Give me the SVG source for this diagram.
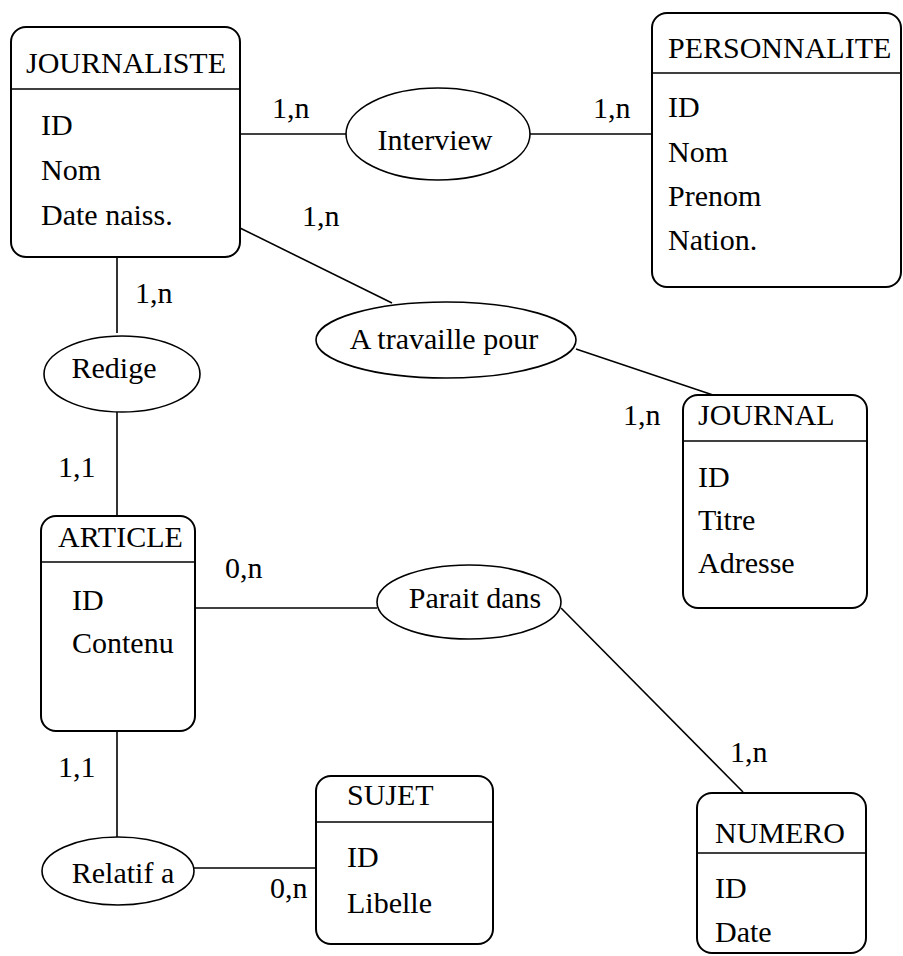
<svg xmlns="http://www.w3.org/2000/svg" width="903" height="956" viewBox="0 0 903 956">
<style>
  .box { fill: #fff; stroke: #000; stroke-width: 2; }
  .div { stroke: #000; stroke-width: 1.6; }
  .rel { fill: #fff; stroke: #000; stroke-width: 1.6; }
  .con { stroke: #000; stroke-width: 1.6; fill: none; }
  text { font-family: "Liberation Serif", "Times New Roman", serif; font-size: 30px; fill: #000; }
  .mid { text-anchor: middle; }
</style>
<rect width="903" height="956" fill="#fff"/>
<g id="connectors">
  <line class="con" x1="240" y1="134" x2="346" y2="134"/>
  <line class="con" x1="530" y1="134" x2="652" y2="134"/>
  <line class="con" x1="240" y1="228" x2="392" y2="303"/>
  <line class="con" x1="576" y1="349" x2="713" y2="395"/>
  <line class="con" x1="117" y1="257" x2="117" y2="333"/>
  <line class="con" x1="117" y1="412" x2="117" y2="516"/>
  <line class="con" x1="195" y1="608" x2="377" y2="608"/>
  <line class="con" x1="561" y1="608" x2="743" y2="792"/>
  <line class="con" x1="117" y1="731" x2="117" y2="837"/>
  <line class="con" x1="194" y1="868" x2="316" y2="868"/>
  <text x="272" y="118">1,n</text>
  <text x="593" y="118">1,n</text>
  <text x="302" y="226">1,n</text>
  <text x="623" y="425">1,n</text>
  <text x="135" y="303">1,n</text>
  <text x="58" y="477">1,1</text>
  <text x="225" y="578">0,n</text>
  <text x="730" y="762">1,n</text>
  <text x="58" y="777">1,1</text>
  <text x="270" y="898">0,n</text>
</g>
<g id="journaliste">
  <rect class="box" x="11" y="27" width="229" height="230" rx="15"/>
  <line class="div" x1="11" y1="89" x2="240" y2="89"/>
  <text x="26" y="73">JOURNALISTE</text>
  <text x="41" y="135">ID</text>
  <text x="41" y="180">Nom</text>
  <text x="41" y="225">Date naiss.</text>
</g>
<g id="personnalite">
  <rect class="box" x="652" y="13" width="249" height="274" rx="15"/>
  <line class="div" x1="652" y1="73" x2="901" y2="73"/>
  <text x="668" y="58">PERSONNALITE</text>
  <text x="668" y="117">ID</text>
  <text x="668" y="162">Nom</text>
  <text x="668" y="206">Prenom</text>
  <text x="668" y="250">Nation.</text>
</g>
<g id="journal">
  <rect class="box" x="683" y="395" width="184" height="213" rx="15"/>
  <line class="div" x1="683" y1="441" x2="867" y2="441"/>
  <text x="698" y="425">JOURNAL</text>
  <text x="698" y="487">ID</text>
  <text x="698" y="530">Titre</text>
  <text x="698" y="573">Adresse</text>
</g>
<g id="article">
  <rect class="box" x="41" y="516" width="154" height="215" rx="15"/>
  <line class="div" x1="41" y1="562" x2="195" y2="562"/>
  <text x="58" y="547">ARTICLE</text>
  <text x="72" y="610">ID</text>
  <text x="72" y="653">Contenu</text>
</g>
<g id="sujet">
  <rect class="box" x="316" y="776" width="177" height="168" rx="15"/>
  <line class="div" x1="316" y1="822" x2="493" y2="822"/>
  <text x="347" y="805">SUJET</text>
  <text x="347" y="867">ID</text>
  <text x="347" y="913">Libelle</text>
</g>
<g id="numero">
  <rect class="box" x="697" y="793" width="169" height="160" rx="15"/>
  <line class="div" x1="697" y1="853" x2="866" y2="853"/>
  <text x="715" y="843">NUMERO</text>
  <text x="715" y="898">ID</text>
  <text x="715" y="942">Date</text>
</g>
<g id="interview">
  <ellipse class="rel" cx="438" cy="134" rx="92" ry="46"/>
  <text class="mid" x="435" y="150">Interview</text>
</g>
<g id="a-travaille-pour">
  <ellipse class="rel" cx="446" cy="340" rx="130" ry="38"/>
  <text class="mid" x="444" y="349">A travaille pour</text>
</g>
<g id="redige">
  <ellipse class="rel" cx="122" cy="374" rx="78" ry="38"/>
  <text class="mid" x="114" y="378">Redige</text>
</g>
<g id="parait-dans">
  <ellipse class="rel" cx="469" cy="602" rx="92" ry="37"/>
  <text class="mid" x="475" y="608">Parait dans</text>
</g>
<g id="relatif-a">
  <ellipse class="rel" cx="118" cy="871" rx="76" ry="34"/>
  <text class="mid" x="123" y="883">Relatif a</text>
</g>
</svg>
